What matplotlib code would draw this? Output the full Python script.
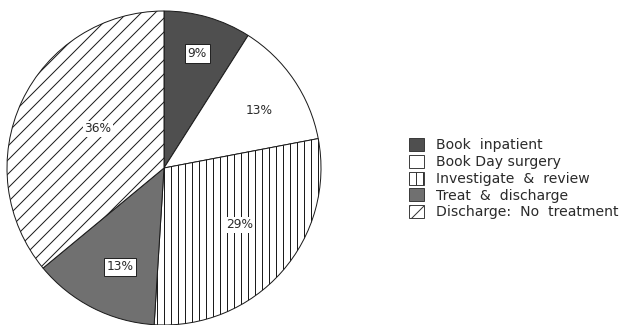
import numpy as np
import matplotlib.pyplot as plt
from matplotlib.patches import Patch

# referral outcome shares (percent), clockwise from 12 o'clock
labels = ['Book  inpatient', 'Book Day surgery', 'Investigate  &  review',
          'Treat  &  discharge', 'Discharge:  No  treatment']
shares = [9, 13, 29, 13, 36]
pct_text = ['9%', '13%', '29%', '13%', '36%']

# look of each slice
fills = ['#4f4f4f', 'white', 'white', '#707070', 'white']
hatches = [None, None, '||', None, '//']
# where the % text sits: radius (fraction of pie) and angle nudge (deg)
lab_r = [0.76, 0.71, 0.60, 0.69, 0.49]
lab_nudge = [0, -3, 4.5, 3, -5.6]
lab_box = ['border', None, 'plain', 'border', 'plain']

# dpi 84 makes the built-in hatch spacing match the print (7px / 14px)
dpi = 84
plt.rcParams['hatch.linewidth'] = 0.85
plt.rcParams['font.family'] = ['DejaVu Sans']

fig = plt.figure(figsize=(625 / dpi, 325 / dpi), dpi=dpi)
cx, cy, r = 164, 168, 157
ax = fig.add_axes([(cx - r) / 625, (325 - cy - r) / 325, 2 * r / 625, 2 * r / 325])

wedges, _ = ax.pie(shares, startangle=90, counterclock=False, colors=fills,
                   wedgeprops=dict(edgecolor='#1a1a1a', linewidth=0.85))
for w, h in zip(wedges, hatches):
    if h:
        w.set_hatch(h)
ax.set_xlim(-1, 1)
ax.set_ylim(-1, 1)
ax.axis('off')

for i, w in enumerate(wedges):
    ang = np.deg2rad((w.theta1 + w.theta2) / 2 + lab_nudge[i])
    x, y = lab_r[i] * np.cos(ang), lab_r[i] * np.sin(ang)
    bb = None
    if lab_box[i] == 'border':
        bb = dict(boxstyle='square,pad=0.22', fc='white', ec='#1a1a1a', lw=0.8)
    elif lab_box[i] == 'plain':
        bb = dict(boxstyle='square,pad=0.12', fc='white', ec='none')
    ax.text(x, y, pct_text[i], ha='center', va='center', fontsize=10.5,
            color='#2a2a2a', bbox=bb)

handles = [Patch(facecolor=f, edgecolor='#333333', hatch=h, linewidth=0.8)
           for f, h in zip(fills, hatches)]
fig.legend(handles, labels, loc='upper left',
           bbox_to_anchor=(409 / 625, 1 - 138 / 325), frameon=False,
           fontsize=12, handlelength=1.08, handleheight=1.05,
           handletextpad=0.85, labelspacing=0.18, borderpad=0,
           borderaxespad=0, labelcolor='#2a2a2a')

fig.savefig('out.png', dpi=dpi)
